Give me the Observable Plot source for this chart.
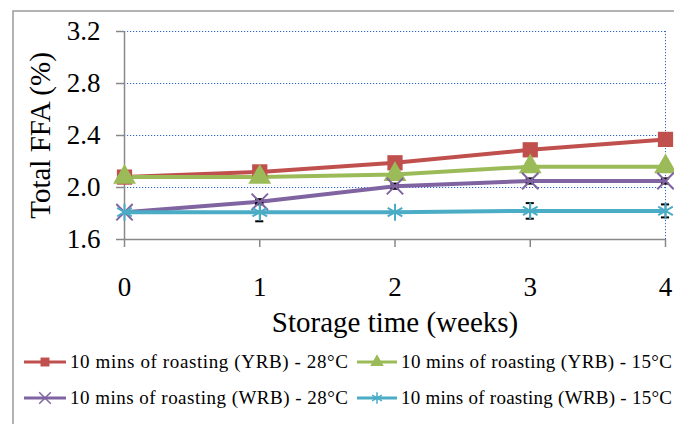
<!DOCTYPE html>
<html>
<head>
<meta charset="utf-8">
<script src="https://cdn.jsdelivr.net/npm/d3@7"></script>
<script src="https://cdn.jsdelivr.net/npm/@observablehq/plot@0.6"></script>
<style>
  html, body { margin: 0; padding: 0; background: #fff; }
  #chart { width: 674px; height: 424px; overflow: hidden; }
  #chart svg text { font-family: "Liberation Serif", "Times New Roman", serif; }
</style>
</head>
<body>
<div id="chart"></div>
<script>
// ---- data ----
const weeks = [0, 1, 2, 3, 4];
const yrb28 = [2.08, 2.12, 2.19, 2.29, 2.37];
const yrb15 = [2.08, 2.08, 2.10, 2.16, 2.16];
const wrb28 = [1.81, 1.89, 2.01, 2.05, 2.05];
const wrb15 = [1.81, 1.81, 1.81, 1.82, 1.82];
const errYrb28 = [0, 0, 0.01, 0.01, 0.01];
const errYrb15 = [0, 0, 0.03, 0.02, 0.02];
const errWrb28 = [0, 0.02, 0.02, 0.02, 0.02];
const errWrb15 = [0, 0.07, 0, 0.06, 0.05];
const seriesNames = [
  "10 mins of roasting (YRB) - 28°C",
  "10 mins of roasting (YRB) - 15°C",
  "10 mins of roasting (WRB) - 28°C",
  "10 mins of roasting (WRB) - 15°C"
];
const seriesColors = ["#c0504d", "#9bbb59", "#8064a2", "#4bacc6"];
const yTicks = [1.6, 2.0, 2.4, 2.8, 3.2];
const gridTicks = [2.0, 2.4, 2.8, 3.2];
const xTitle = "Storage time (weeks)";
const yTitle = "Total FFA (%)";

const values = [yrb28, yrb15, wrb28, wrb15];
const errs = [errYrb28, errYrb15, errWrb28, errWrb15];
const d3symbols = [d3.symbolSquare, d3.symbolTriangle, d3.symbolTimes, d3.symbolAsterisk];

const rows = [];
values.forEach((vals, s) => vals.forEach((v, i) => rows.push({
  series: seriesNames[s], s, week: weeks[i], value: v, err: errs[s][i]
})));
const errRows = rows.filter(d => d.err > 0);

const color = { domain: seriesNames, range: seriesColors };
const font = "Liberation Serif";
const capHalf = 0.03;
const gridColor = "#2f65c8";

const chart = Plot.plot({
  width: 674,
  height: 424,
  marginLeft: 124,
  marginRight: 9,
  marginTop: 31,
  marginBottom: 185,
  x: { domain: [0, 4] },
  y: { domain: [1.6, 3.2] },
  color,
  style: { fontFamily: font, background: "white", color: "black" },
  marks: [
    Plot.ruleY(gridTicks, { stroke: gridColor, strokeWidth: 1, strokeDasharray: "1.2,1.8" }),
    Plot.ruleX([4], { stroke: gridColor, strokeWidth: 1, strokeDasharray: "1.2,1.8" }),
    Plot.axisY({ ticks: yTicks, tickSize: 8, tickPadding: 16, tickFormat: d => d.toFixed(1),
                 fontSize: 27, label: null, stroke: "#888", strokeWidth: 1.5 }),
    Plot.axisX({ ticks: weeks, tickSize: 8, tickPadding: 29, tickFormat: d => String(d),
                 fontSize: 27, label: null, stroke: "#888", strokeWidth: 1.5 }),
    Plot.ruleX([0], { stroke: "#888", strokeWidth: 1.5 }),
    Plot.ruleY([1.6], { stroke: "#888", strokeWidth: 1.5 }),
    Plot.line(rows, { x: "week", y: "value", z: "series", stroke: "series", strokeWidth: 4 }),
    Plot.ruleX(errRows, { x: "week", y1: d => d.value - d.err, y2: d => d.value + d.err, stroke: "black", strokeWidth: 1.5 }),
    Plot.ruleY(errRows, { y: d => d.value - d.err, x1: d => d.week - capHalf, x2: d => d.week + capHalf, stroke: "black", strokeWidth: 2 }),
    Plot.ruleY(errRows, { y: d => d.value + d.err, x1: d => d.week - capHalf, x2: d => d.week + capHalf, stroke: "black", strokeWidth: 2 }),
    Plot.dot(rows.filter(d => d.s === 0), { x: "week", y: "value", symbol: "square", r: 8.6, fill: "series", stroke: "none" }),
    Plot.dot(rows.filter(d => d.s === 1), { x: "week", y: "value", symbol: "triangle", r: 8.5, fill: "series", stroke: "none" }),
    Plot.dot(rows.filter(d => d.s === 2), { x: "week", y: "value", symbol: "times", r: 7.5, stroke: "series", strokeWidth: 2 }),
    Plot.dot(rows.filter(d => d.s === 3), { x: "week", y: "value", symbol: "asterisk", r: 8, stroke: "series", strokeWidth: 2 }),
    Plot.text([xTitle], { frameAnchor: "bottom", dy: 83, lineAnchor: "middle", textAnchor: "middle", fontSize: 29, fill: "black" }),
    Plot.text([yTitle], { frameAnchor: "left", dx: -84, rotate: -90, lineAnchor: "middle", textAnchor: "middle", fontSize: 29, fill: "black" })
  ]
});

document.getElementById("chart").appendChild(chart);

// outer chart-area border and legend
const svg = d3.select(chart);
svg.append("path")
  .attr("d", "M13,424 L13,11 L674,11")
  .attr("fill", "none").attr("stroke", "#9a9a9a").attr("stroke-width", 1.5);

const legendPos = [
  { x1: 24, x2: 66, tx: 70, y: 362, len: 278 },
  { x1: 357, x2: 397, tx: 401, y: 362, len: 271 },
  { x1: 24, x2: 66, tx: 70, y: 398, len: 278 },
  { x1: 357, x2: 397, tx: 401, y: 398, len: 271 }
];
const lg = svg.append("g").attr("text-anchor", "start");
seriesNames.forEach((name, i) => {
  const p = legendPos[i];
  const g = lg.append("g");
  g.append("line").attr("x1", p.x1).attr("x2", p.x2).attr("y1", p.y).attr("y2", p.y)
    .attr("stroke", seriesColors[i]).attr("stroke-width", 3);
  const filled = i < 2;
  g.append("path")
    .attr("d", d3.symbol(d3symbols[i], filled ? 80 : 90)())
    .attr("transform", `translate(${(p.x1 + p.x2) / 2},${p.y})`)
    .attr("fill", filled ? seriesColors[i] : "none")
    .attr("stroke", filled ? "none" : seriesColors[i])
    .attr("stroke-width", 1.5);
  g.append("text").attr("x", p.tx).attr("y", p.y).attr("dy", "0.33em")
    .attr("text-anchor", "start")
    .attr("font-size", 19).attr("fill", "black")
    .attr("textLength", p.len).attr("lengthAdjust", "spacing")
    .text(name);
});
</script>
</body>
</html>
